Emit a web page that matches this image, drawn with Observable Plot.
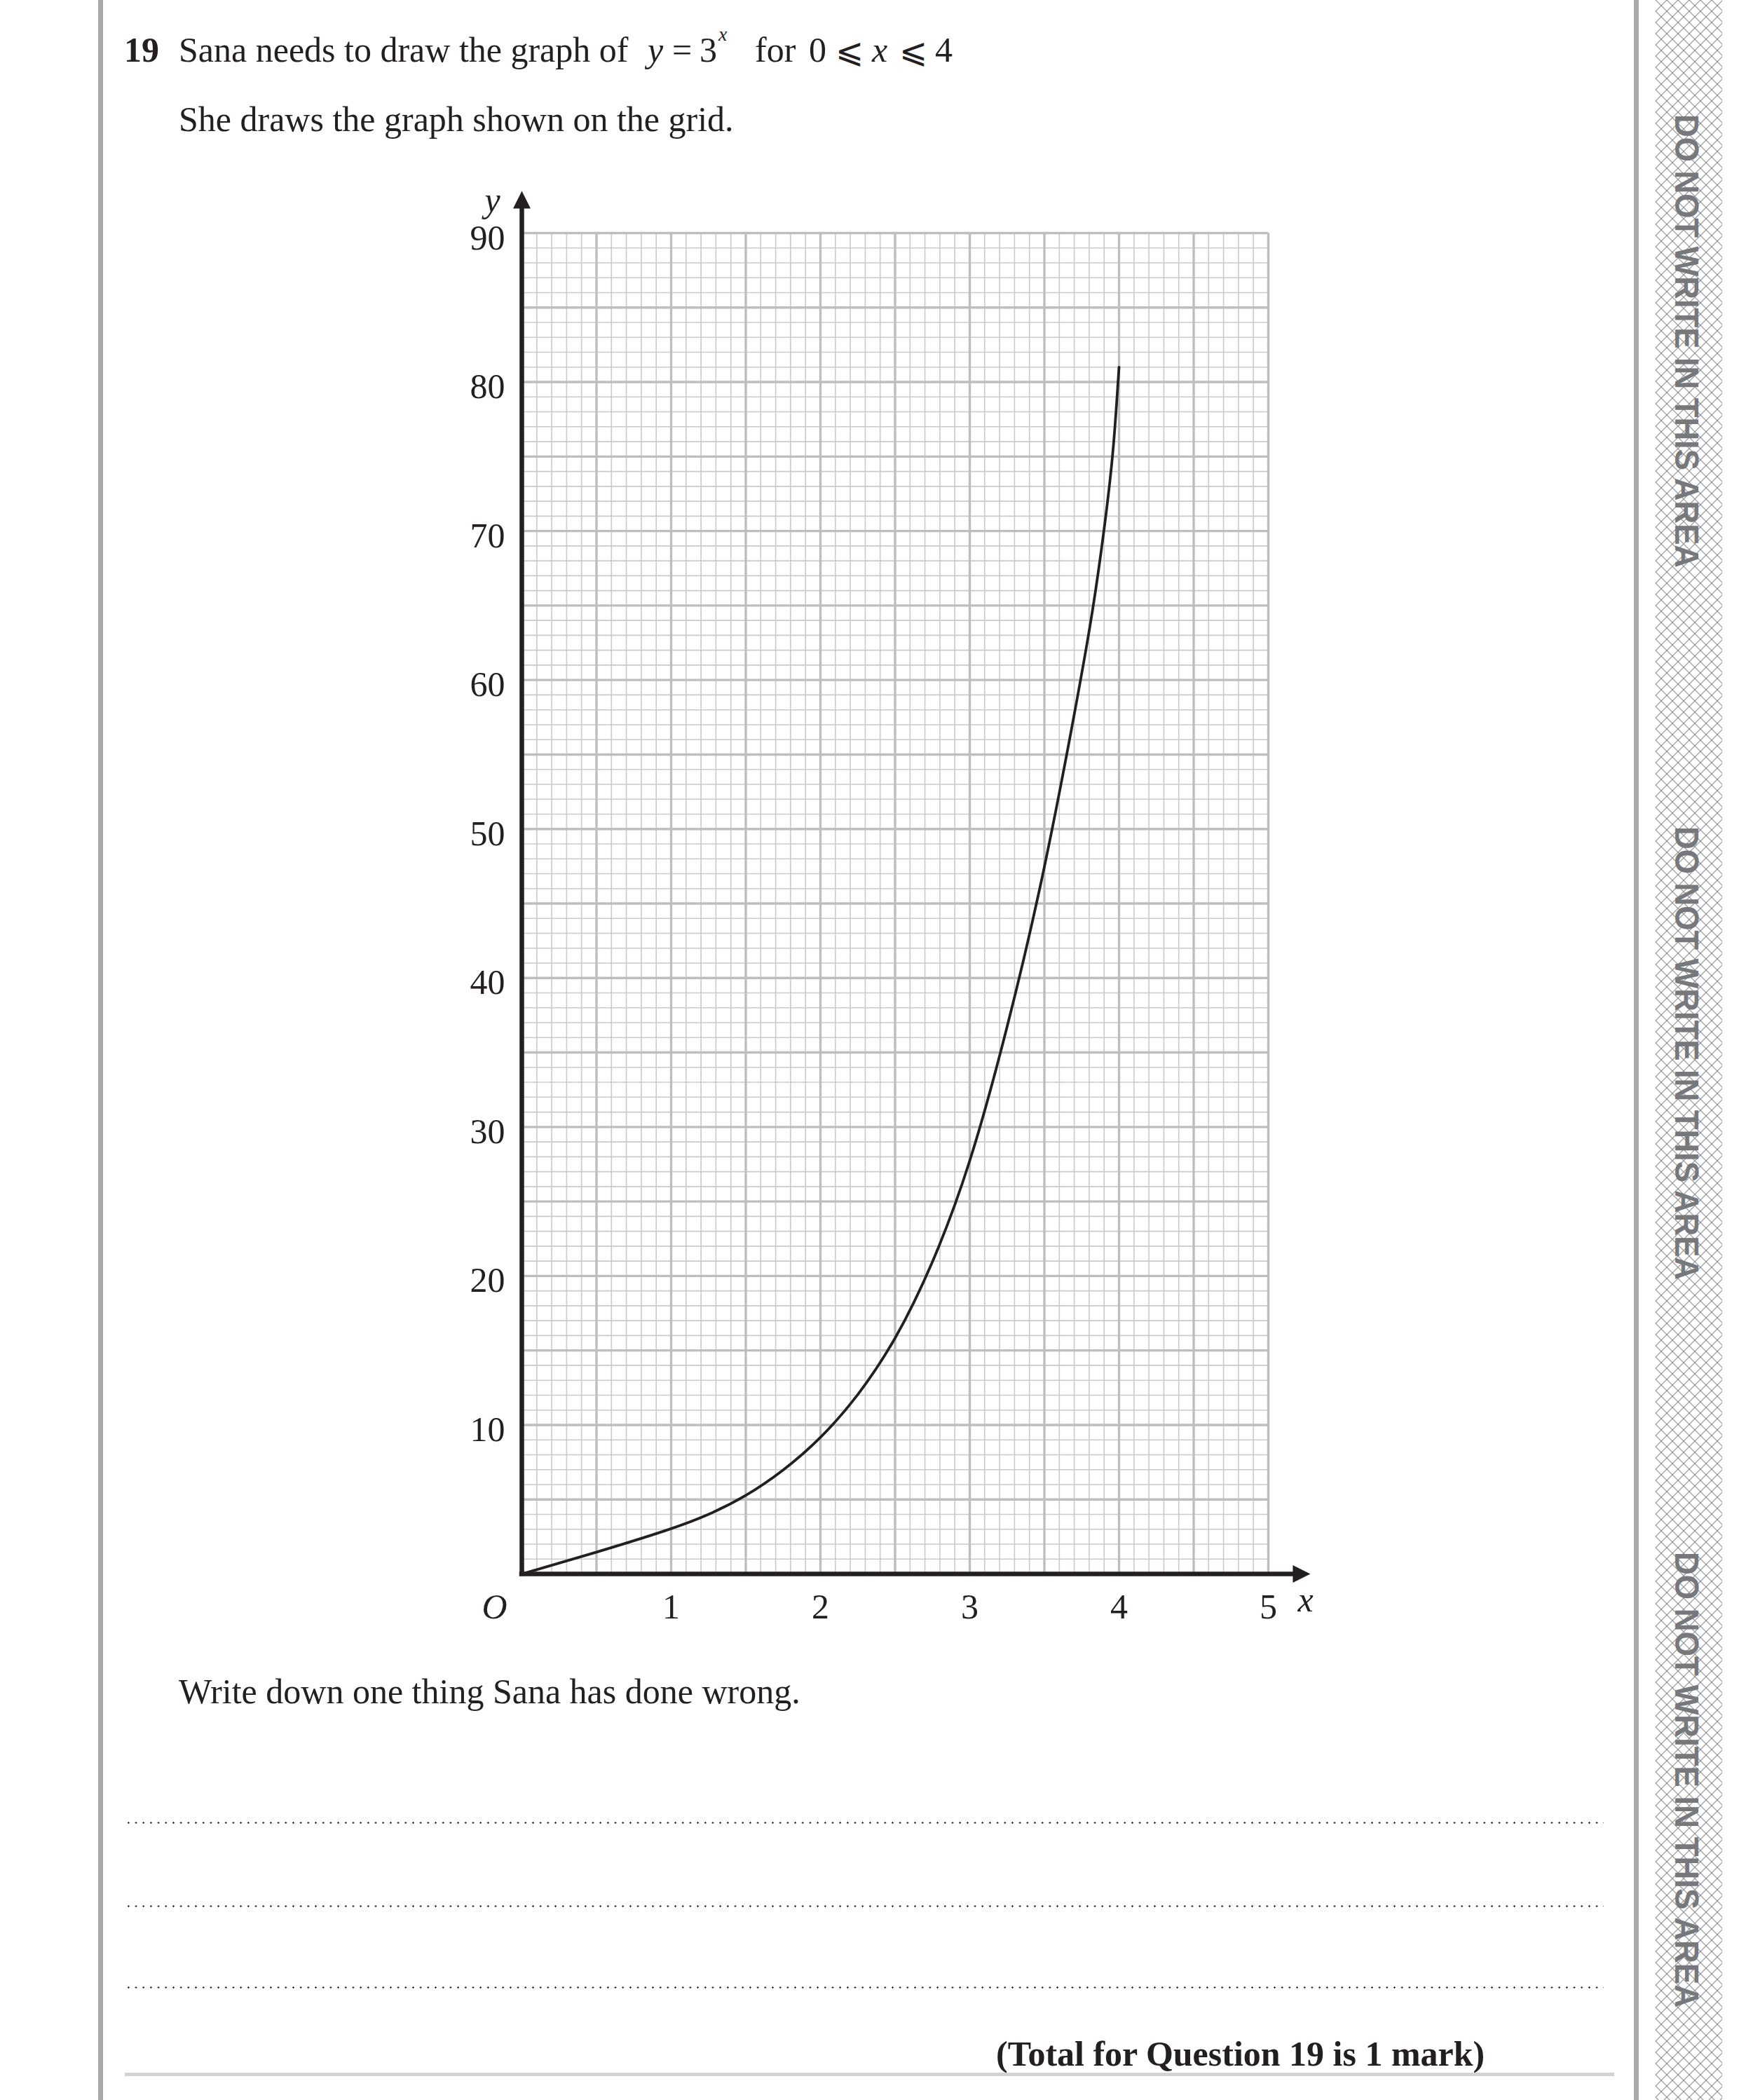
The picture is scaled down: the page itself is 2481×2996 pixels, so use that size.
<!DOCTYPE html>
<html>
<head>
<meta charset="utf-8">
<script src="https://cdn.jsdelivr.net/npm/d3@7"></script>
<script src="https://cdn.jsdelivr.net/npm/@observablehq/plot@0.6"></script>
<style>
html, body { margin: 0; padding: 0; background: #fff; }
#page { position: relative; width: 2481px; height: 2996px; overflow: hidden; background: #fff;
  font-family: "Liberation Serif", "Times New Roman", serif; color: #231f20; }
.t { position: absolute; font-size: 50px; line-height: 50px; white-space: nowrap; }
.i { font-style: italic; }
.b { font-weight: bold; }
.sym { font-family: "DejaVu Serif", "DejaVu Sans", serif; font-size: 48px; }
#chart { position: absolute; left: 0; top: 0; width: 2481px; }
.vline { position: absolute; top: 0; height: 2996px; background: #a7a9ac; }
.dots { position: absolute; left: 178px; width: 2110px; height: 3px;
  background-image: radial-gradient(circle, #231f20 1.1px, transparent 1.4px);
  background-size: 10.7px 3px; background-repeat: repeat-x; }
#strip { position: absolute; left: 2362px; top: 0; }
</style>
</head>
<body>
<div id="page">
  <div class="vline" style="left:140px;width:7px;"></div>
  <div class="vline" style="left:2331px;width:7px;"></div>

  <!-- Question text -->
  <div class="t b" style="left:177px;top:46px;">19</div>
  <div class="t" style="left:255px;top:46px;">Sana needs to draw the graph of</div>
  <div class="t i" style="left:924px;top:46px;">y</div>
  <div class="t" style="left:959px;top:46px;">=</div>
  <div class="t" style="left:998px;top:46px;">3</div>
  <div class="t i" style="left:1025px;top:35px;font-size:28px;line-height:28px;">x</div>
  <div class="t" style="left:1077px;top:46px;">for</div>
  <div class="t" style="left:1154px;top:46px;">0</div>
  <div class="t sym" style="left:1192px;top:47px;">⩽</div>
  <div class="t i" style="left:1244px;top:46px;">x</div>
  <div class="t sym" style="left:1283px;top:47px;">⩽</div>
  <div class="t" style="left:1334px;top:46px;">4</div>

  <div class="t" style="left:255px;top:145px;">She draws the graph shown on the grid.</div>

  <div id="chart"></div>

  <div class="t" style="left:255px;top:2388px;">Write down one thing Sana has done wrong.</div>

  <div class="dots" style="top:2599px;"></div>
  <div class="dots" style="top:2718px;"></div>
  <div class="dots" style="top:2834px;"></div>

  <div class="t b" style="left:1421px;top:2905px;">(Total for Question 19 is 1 mark)</div>
  <div style="position:absolute;left:178px;top:2957px;width:2125px;height:5px;background:#d1d3d4;"></div>

  <svg id="strip" width="95" height="2996" xmlns="http://www.w3.org/2000/svg">
    <defs>
      <pattern id="hatch" width="16" height="16" patternUnits="userSpaceOnUse">
        <path d="M0,0 L16,16 M16,0 L0,16" stroke="#8e9093" stroke-width="1.2" fill="none"/>
      </pattern>
    </defs>
    <rect x="0" y="0" width="95" height="2996" fill="url(#hatch)"/>
    <g font-family="Liberation Sans, Arial, sans-serif" font-weight="bold" font-size="48" fill="#77787b">
      <text transform="translate(28,163) rotate(90)" textLength="647" lengthAdjust="spacingAndGlyphs">DO NOT WRITE IN THIS AREA</text>
      <text transform="translate(28,1179) rotate(90)" textLength="647" lengthAdjust="spacingAndGlyphs">DO NOT WRITE IN THIS AREA</text>
      <text transform="translate(28,2214) rotate(90)" textLength="650" lengthAdjust="spacingAndGlyphs">DO NOT WRITE IN THIS AREA</text>
    </g>
  </svg>
</div>

<script>
// ---- Data ----
const xTickValues = [1, 2, 3, 4, 5];
const yTickValues = [10, 20, 30, 40, 50, 60, 70, 80, 90];

// Sana's curve
const curveX = [0, 0.5, 1, 1.25, 1.5, 1.75, 2, 2.25, 2.5, 2.75, 3, 3.25, 3.5, 3.75, 3.83, 3.9, 3.96, 3.99, 4];
const curveY = [0, 1.45, 3, 3.95, 5.2, 6.9, 9.05, 11.9, 15.6, 20.7, 27.3, 36.5, 47, 60.3, 65, 70, 75, 79.5, 81];

const curve = curveX.map((x, i) => ({x, y: curveY[i]}));

// grid lines of the graph paper
const xAll = d3.range(0, 51).map(i => i / 10);
const xMajor = xAll.filter((v, i) => i % 5 === 0);
const xMinor = xAll.filter((v, i) => i % 5 !== 0);
const yAll = d3.range(0, 91);
const yMajor = yAll.filter(v => v % 5 === 0);
const yMinor = yAll.filter(v => v % 5 !== 0);

const yAxisEnd = 91.65;  // where the y-axis arrow head starts
const xAxisEnd = 5.164;  // where the x-axis arrow head starts

const arrowUp = {
  draw(ctx, size) {
    const r = Math.sqrt(size / Math.PI);
    const h = 2.5 * r, w = 1.25 * r;
    ctx.moveTo(0, -h); ctx.lineTo(w, 0); ctx.lineTo(-w, 0); ctx.closePath();
  }
};
const arrowRight = {
  draw(ctx, size) {
    const r = Math.sqrt(size / Math.PI);
    const h = 2.5 * r, w = 1.25 * r;
    ctx.moveTo(h, 0); ctx.lineTo(0, -w); ctx.lineTo(0, w); ctx.closePath();
  }
};

const ink = "#231f20";
const font = "Liberation Serif, Times New Roman, serif";

const chart = Plot.plot({
  width: 2481,
  height: 2400,
  marginTop: 332,
  marginBottom: 155,
  marginLeft: 744,
  marginRight: 672,
  x: {domain: [0, 5], axis: null},
  y: {domain: [0, 90], axis: null},
  style: {background: "transparent", overflow: "visible", fontFamily: font},
  marks: [
    Plot.ruleX(xMinor, {y1: 0, y2: 90, stroke: "#c9cacc", strokeWidth: 1.6}),
    Plot.ruleY(yMinor, {x1: 0, x2: 5, stroke: "#c9cacc", strokeWidth: 1.6}),
    Plot.ruleX(xMajor, {y1: 0, y2: 90, stroke: "#bcbec0", strokeWidth: 3.4}),
    Plot.ruleY(yMajor, {x1: 0, x2: 5, stroke: "#bcbec0", strokeWidth: 3.4}),
    Plot.line(curve, {x: "x", y: "y", curve: "basis", stroke: ink, strokeWidth: 3.8}),
    Plot.ruleX([0], {y1: 0, y2: yAxisEnd, stroke: ink, strokeWidth: 6.5, strokeLinecap: "square"}),
    Plot.ruleY([0], {x1: 0, x2: xAxisEnd, stroke: ink, strokeWidth: 6.5, strokeLinecap: "square"}),
    Plot.dot([0], {x: 0, y: yAxisEnd, symbol: arrowUp, r: 10, fill: ink, stroke: "none"}),
    Plot.dot([0], {x: xAxisEnd, y: 0, symbol: arrowRight, r: 10, fill: ink, stroke: "none"}),
    Plot.text(yTickValues, {x: 0, y: d => d, text: d => String(d), textAnchor: "end", dx: -24, dy: 7,
      fontSize: 50, fontFamily: font, fill: ink}),
    Plot.text(xTickValues, {x: d => d, y: 0, text: d => String(d), dy: 47,
      fontSize: 50, fontFamily: font, fill: ink}),
    Plot.text(["O"], {x: 0, y: 0, text: d => d, dx: -39, dy: 47, fontSize: 50, fontStyle: "italic", fontFamily: font, fill: ink}),
    Plot.text(["y"], {x: 0, y: 92.2, text: d => d, dx: -42, fontSize: 50, fontStyle: "italic", fontFamily: font, fill: ink}),
    Plot.text(["x"], {x: 5.249, y: 0, text: d => d, dy: 37, fontSize: 50, fontStyle: "italic", fontFamily: font, fill: ink})
  ]
});
document.getElementById("chart").appendChild(chart);
</script>
</body>
</html>
